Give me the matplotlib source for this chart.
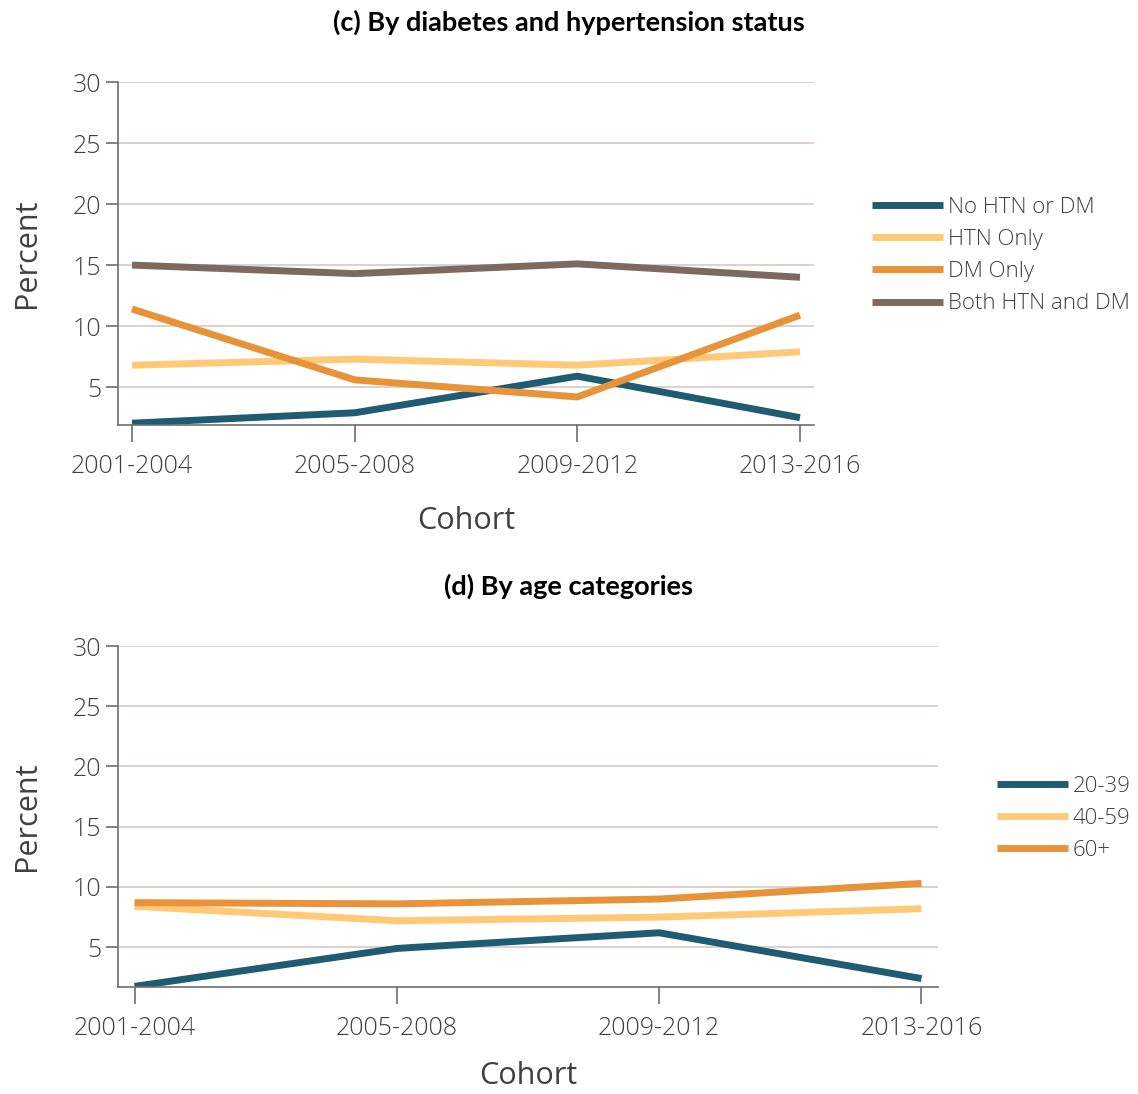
import matplotlib.pyplot as plt
import numpy as np

cohorts = ['2001-2004', '2005-2008', '2009-2012', '2013-2016']

# (c) diabetes / hypertension status
status_labels = ['No HTN or DM', 'HTN Only', 'DM Only', 'Both HTN and DM']
no_htn_dm = [2.05, 2.9, 5.9, 2.5]
htn_only = [6.8, 7.3, 6.8, 7.9]
dm_only = [11.4, 5.6, 4.2, 10.9]
both_htn_dm = [15.0, 14.3, 15.1, 14.0]

# (d) age categories
age_labels = ['20-39', '40-59', '60+']
age_20_39 = [1.75, 4.9, 6.2, 2.4]
age_40_59 = [8.4, 7.2, 7.5, 8.2]
age_60_plus = [8.7, 8.6, 9.0, 10.3]

colors = ['#1F5C73', '#FFC978', '#E8923A', '#7D6A5E']
txt = '#404040'

plt.rcParams['font.family'] = ['Open Sans', 'DejaVu Sans']
plt.rcParams['font.weight'] = 'light'

W, H = 1138, 1094
fig = plt.figure(figsize=(W / 100, H / 100), dpi=100)


def px_axes(left, top, right, bottom):
    return fig.add_axes([left / W, 1 - bottom / H, (right - left) / W, (bottom - top) / H])


def style(ax, ymin, xpad):
    x = np.arange(len(cohorts))
    ax.set_xlim(-0.063, 3.063)
    ax.set_ylim(ymin, 30)
    ax.set_yticks([5, 10, 15, 20, 25, 30])
    ax.set_xticks(x)
    ax.set_xticklabels(cohorts)
    ax.yaxis.grid(True, color='#D3CBC6', lw=1.2)
    ax.set_axisbelow(True)
    for s in ['top', 'right']:
        ax.spines[s].set_visible(False)
    for s in ['left', 'bottom']:
        ax.spines[s].set_color('#6E6E6E')
        ax.spines[s].set_linewidth(1.2)
    ax.tick_params(axis='y', length=9, width=1.2, color='#6E6E6E', labelsize=18, labelcolor=txt, pad=3)
    ax.tick_params(axis='x', length=12, width=1.2, color='#6E6E6E', labelsize=18, labelcolor=txt, pad=9)
    ax.set_ylabel('Percent', fontsize=22, color=txt, labelpad=22)
    ax.set_xlabel('Cohort', fontsize=22, color=txt, labelpad=xpad)


def add_legend(ax, left, top):
    ax.legend(loc='upper left', bbox_to_anchor=(left / W, 1 - top / H), bbox_transform=fig.transFigure,
              frameon=False, fontsize=16, labelcolor=txt, handlelength=3.2, handletextpad=0.2,
              labelspacing=0.5, borderpad=0, borderaxespad=0)


x = np.arange(len(cohorts))

# top panel
ax1 = px_axes(118, 82, 814, 425)
for vals, c, lab in zip([no_htn_dm, htn_only, dm_only, both_htn_dm], colors, status_labels):
    ax1.plot(x, vals, color=c, lw=5, label=lab, solid_capstyle='butt')
style(ax1, 1.9, 19)
fig.text(0.5, 1 - 22 / H, '(c) By diabetes and hypertension status', ha='center', va='center',
         fontsize=19.5, fontweight='bold', family='Lato', color='black')
add_legend(ax1, 872, 197)

# bottom panel
ax2 = px_axes(118, 646, 938, 987)
for vals, c, lab in zip([age_20_39, age_40_59, age_60_plus], colors, age_labels):
    ax2.plot(x, vals, color=c, lw=5, label=lab, solid_capstyle='butt')
style(ax2, 1.7, 14)
fig.text(0.5, 1 - 586 / H, '(d) By age categories', ha='center', va='center',
         fontsize=19.5, fontweight='bold', family='Lato', color='black')
add_legend(ax2, 997, 776)

fig.savefig('out.png', dpi=100)
